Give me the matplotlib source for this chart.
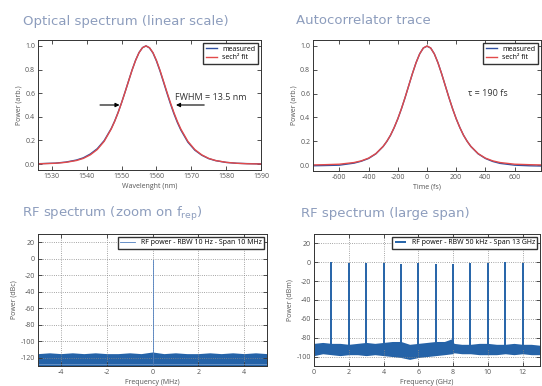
import matplotlib
matplotlib.use("Agg")
import matplotlib.pyplot as plt

# optical spectrum (nm, arb.)
WL = [1526, 1531, 1534, 1537, 1539, 1541, 1543, 1545, 1547, 1548, 1549, 1550,
      1551, 1552, 1553, 1554, 1555, 1556, 1557, 1558, 1559, 1560, 1561, 1562,
      1563, 1564, 1565, 1566, 1567, 1569, 1571, 1573, 1575, 1577, 1580, 1583,
      1586, 1590]
OPT_FIT = [0.002, 0.007, 0.015, 0.030, 0.048, 0.078, 0.123, 0.193, 0.296, 0.361,
           0.436, 0.520, 0.610, 0.703, 0.795, 0.877, 0.943, 0.985, 1.0, 0.985,
           0.943, 0.877, 0.795, 0.703, 0.610, 0.520, 0.436, 0.361, 0.296, 0.193,
           0.123, 0.078, 0.048, 0.030, 0.015, 0.007, 0.003, 0.001]
OPT_MEAS = [0.003, 0.008, 0.017, 0.034, 0.053, 0.085, 0.130, 0.199, 0.300, 0.364,
            0.438, 0.521, 0.611, 0.704, 0.796, 0.878, 0.944, 0.986, 1.0, 0.983,
            0.940, 0.872, 0.789, 0.696, 0.602, 0.511, 0.427, 0.352, 0.288, 0.186,
            0.118, 0.075, 0.046, 0.029, 0.014, 0.007, 0.004, 0.002]

# autocorrelation (fs, arb.)
T_FS = [-780, -700, -600, -500, -450, -400, -350, -300, -275, -250, -225, -200,
        -175, -150, -125, -100, -75, -50, -25, 0, 25, 50, 75, 100, 125, 150, 175,
        200, 225, 250, 275, 300, 350, 400, 450, 500, 600, 700, 780]
AC_FIT = [0.001, 0.003, 0.007, 0.021, 0.035, 0.058, 0.096, 0.157, 0.199, 0.250,
          0.314, 0.388, 0.473, 0.567, 0.667, 0.767, 0.859, 0.934, 0.983, 1.0,
          0.983, 0.934, 0.859, 0.767, 0.667, 0.567, 0.473, 0.388, 0.314, 0.250,
          0.199, 0.157, 0.096, 0.058, 0.035, 0.021, 0.007, 0.003, 0.001]
AC_MEAS = [-0.006, -0.004, -0.001, 0.016, 0.032, 0.055, 0.094, 0.156, 0.198, 0.249,
           0.313, 0.387, 0.472, 0.566, 0.667, 0.767, 0.859, 0.934, 0.983, 0.998,
           0.983, 0.934, 0.859, 0.767, 0.667, 0.567, 0.473, 0.388, 0.314, 0.250,
           0.199, 0.156, 0.094, 0.055, 0.030, 0.014, -0.001, -0.006, -0.008]

# RF zoom on f_rep (MHz, dBc): noise band envelope and carrier
RFZ_X = [-5, -4.5, -4, -3.5, -3, -2.5, -2, -1.5, -1, -0.5, 0, 0.5, 1, 1.5, 2,
         2.5, 3, 3.5, 4, 4.5, 5]
RFZ_TOP = [-115, -114, -115, -114, -115, -114, -115, -115, -114, -115, -113,
           -115, -114, -115, -115, -114, -115, -114, -115, -114, -115]
RFZ_BOT = [-131] * 21
CARRIER_DB = -2

# RF large span (GHz, dBm)
RFL_X = [0, 0.5, 1, 1.5, 2, 2.5, 3, 3.5, 4, 4.5, 5, 5.5, 6, 6.5, 7, 7.5, 7.95,
         8.05, 8.5, 9, 9.5, 10, 10.5, 11, 11.5, 12, 12.5, 13]
RFL_TOP = [-86, -85, -86, -86, -87, -86, -85, -86, -85, -84, -84, -87, -86, -85,
           -84, -84, -81, -86, -87, -87, -86, -86, -87, -87, -86, -87, -87, -88]
RFL_BOT = [-99, -97, -98, -99, -98, -98, -99, -98, -99, -100, -101, -103, -101,
           -100, -99, -98, -97, -96, -97, -97, -98, -98, -98, -97, -98, -97, -98, -98]
HARM_F = [1, 2, 3, 4, 5, 6, 7, 8, 9, 10, 11, 12]
HARM_DB = [0, -1, -1, -1, -2, -1, -2, -2, -1, -1, 0, -1]

BLUE = "#2f4f9f"
RED = "#e24a4a"
RFBLUE = "#2563a8"
TITLE_C = "#8d9dbd"

plt.rcParams.update({
    "font.family": ["Open Sans", "DejaVu Sans"],
    "font.size": 5,
    "axes.unicode_minus": False,
    "xtick.direction": "in", "ytick.direction": "in",
    "xtick.top": True, "ytick.right": True,
    "xtick.major.size": 3, "ytick.major.size": 3,
    "xtick.major.width": 0.6, "ytick.major.width": 0.6,
    "xtick.major.pad": 2, "ytick.major.pad": 2,
    "axes.linewidth": 0.7,
    "axes.edgecolor": "#333333",
    "xtick.color": "#333333", "ytick.color": "#333333",
    "xtick.labelcolor": "#555555", "ytick.labelcolor": "#555555",
    "axes.labelcolor": "#555555",
    "legend.fancybox": False,
    "legend.edgecolor": "#333333",
})

fig = plt.figure(figsize=(5.42, 3.86), dpi=100)
W, H = 542, 386


def box(l, t, r, b):
    return [l / W, 1 - b / H, (r - l) / W, (b - t) / H]


ax1 = fig.add_axes(box(38, 40, 261, 170))
ax2 = fig.add_axes(box(313, 40, 541, 171))
ax3 = fig.add_axes(box(38, 234, 267, 366))
ax4 = fig.add_axes(box(314, 234, 540, 366))

tkw = dict(fontsize=9.5, color=TITLE_C, family=["DejaVu Sans"])
fig.text(23 / W, 1 - 21 / H, "Optical spectrum (linear scale)", va="center", **tkw)
fig.text(296 / W, 1 - 21 / H, "Autocorrelator trace", va="center", **tkw)
fig.text(22 / W, 1 - 214 / H, r"RF spectrum (zoom on f$_\mathregular{rep}$)", va="center", **tkw)
fig.text(301 / W, 1 - 214 / H, "RF spectrum (large span)", va="center", **tkw)

# optical spectrum
ax1.plot(WL, OPT_MEAS, color=BLUE, lw=1.0, label="measured")
ax1.plot(WL, OPT_FIT, color=RED, lw=1.0, label="sech² fit")
ax1.set_xlim(1526, 1590)
ax1.set_ylim(-0.05, 1.05)
ax1.set_xticks([1530, 1540, 1550, 1560, 1570, 1580, 1590])
ax1.set_yticks([0.0, 0.2, 0.4, 0.6, 0.8, 1.0])
ax1.set_yticklabels(["0.0", "0.2", "0.4", "0.6", "0.8", "1.0"])
ax1.set_xlabel("Wavelenght (nm)", labelpad=2)
ax1.set_ylabel("Power (arb.)", labelpad=2)
ax1.legend(loc="upper right", fontsize=5, handlelength=1.6, borderpad=0.4,
           labelspacing=0.2, framealpha=1, borderaxespad=0.4)
ax1.annotate("", xy=(1550.2, 0.5), xytext=(1543, 0.5),
             arrowprops=dict(arrowstyle="-|>", color="black", lw=0.8, mutation_scale=6))
ax1.annotate("", xy=(1564.8, 0.5), xytext=(1574.5, 0.5),
             arrowprops=dict(arrowstyle="-|>", color="black", lw=0.8, mutation_scale=6))
ax1.text(1565.3, 0.56, "FWHM = 13.5 nm", fontsize=6.5, va="center", color="#333333")

# autocorrelation
ax2.plot(T_FS, AC_MEAS, color=BLUE, lw=1.0, label="measured")
ax2.plot(T_FS, AC_FIT, color=RED, lw=1.0, label="sech² fit")
ax2.set_xlim(-780, 780)
ax2.set_ylim(-0.05, 1.05)
ax2.set_xticks([-600, -400, -200, 0, 200, 400, 600])
ax2.set_yticks([0.0, 0.2, 0.4, 0.6, 0.8, 1.0])
ax2.set_yticklabels(["0.0", "0.2", "0.4", "0.6", "0.8", "1.0"])
ax2.set_xlabel("Time (fs)", labelpad=2)
ax2.set_ylabel("Power (arb.)", labelpad=2)
ax2.legend(loc="upper right", fontsize=5, handlelength=1.6, borderpad=0.4,
           labelspacing=0.2, framealpha=1, borderaxespad=0.4)
ax2.text(280, 0.6, "τ = 190 fs", fontsize=6.5, va="center", color="#333333")

# RF zoom
ax3.fill_between(RFZ_X, RFZ_BOT, RFZ_TOP, color=RFBLUE, lw=0)
ax3.plot(RFZ_X, [-127] * len(RFZ_X), color="#7fa3cf", lw=0.5)
ax3.plot([0, 0], [-131, CARRIER_DB], color="#4f7fbf", lw=0.6,
         label="RF power - RBW 10 Hz - Span 10 MHz")
ax3.set_xlim(-5, 5)
ax3.set_ylim(-130, 30)
ax3.set_xticks([-4, -2, 0, 2, 4])
ax3.set_yticks([20, 0, -20, -40, -60, -80, -100, -120])
ax3.grid(True, ls=":", color="#888888", lw=0.6)
ax3.set_xlabel("Frequency (MHz)", labelpad=2)
ax3.set_ylabel("Power (dBc)", labelpad=2)
ax3.legend(loc="upper right", fontsize=5, handlelength=2.2, borderpad=0.35,
           framealpha=1, borderaxespad=0.4)

# RF large span
ax4.fill_between(RFL_X, RFL_BOT, RFL_TOP, color=RFBLUE, lw=0)
ax4.vlines(HARM_F, -92, HARM_DB, color=RFBLUE, lw=1.4,
           label="RF power - RBW 50 kHz - Span 13 GHz")
ax4.set_xlim(0, 13)
ax4.set_ylim(-110, 30)
ax4.set_xticks([0, 2, 4, 6, 8, 10, 12])
ax4.set_yticks([20, 0, -20, -40, -60, -80, -100])
ax4.grid(True, ls=":", color="#888888", lw=0.6)
ax4.set_xlabel("Frequency (GHz)", labelpad=2)
ax4.set_ylabel("Power (dBm)", labelpad=2)
ax4.legend(loc="upper right", fontsize=5, handlelength=1.6, borderpad=0.35,
           framealpha=1, borderaxespad=0.4)

fig.savefig("out.png", dpi=100)
